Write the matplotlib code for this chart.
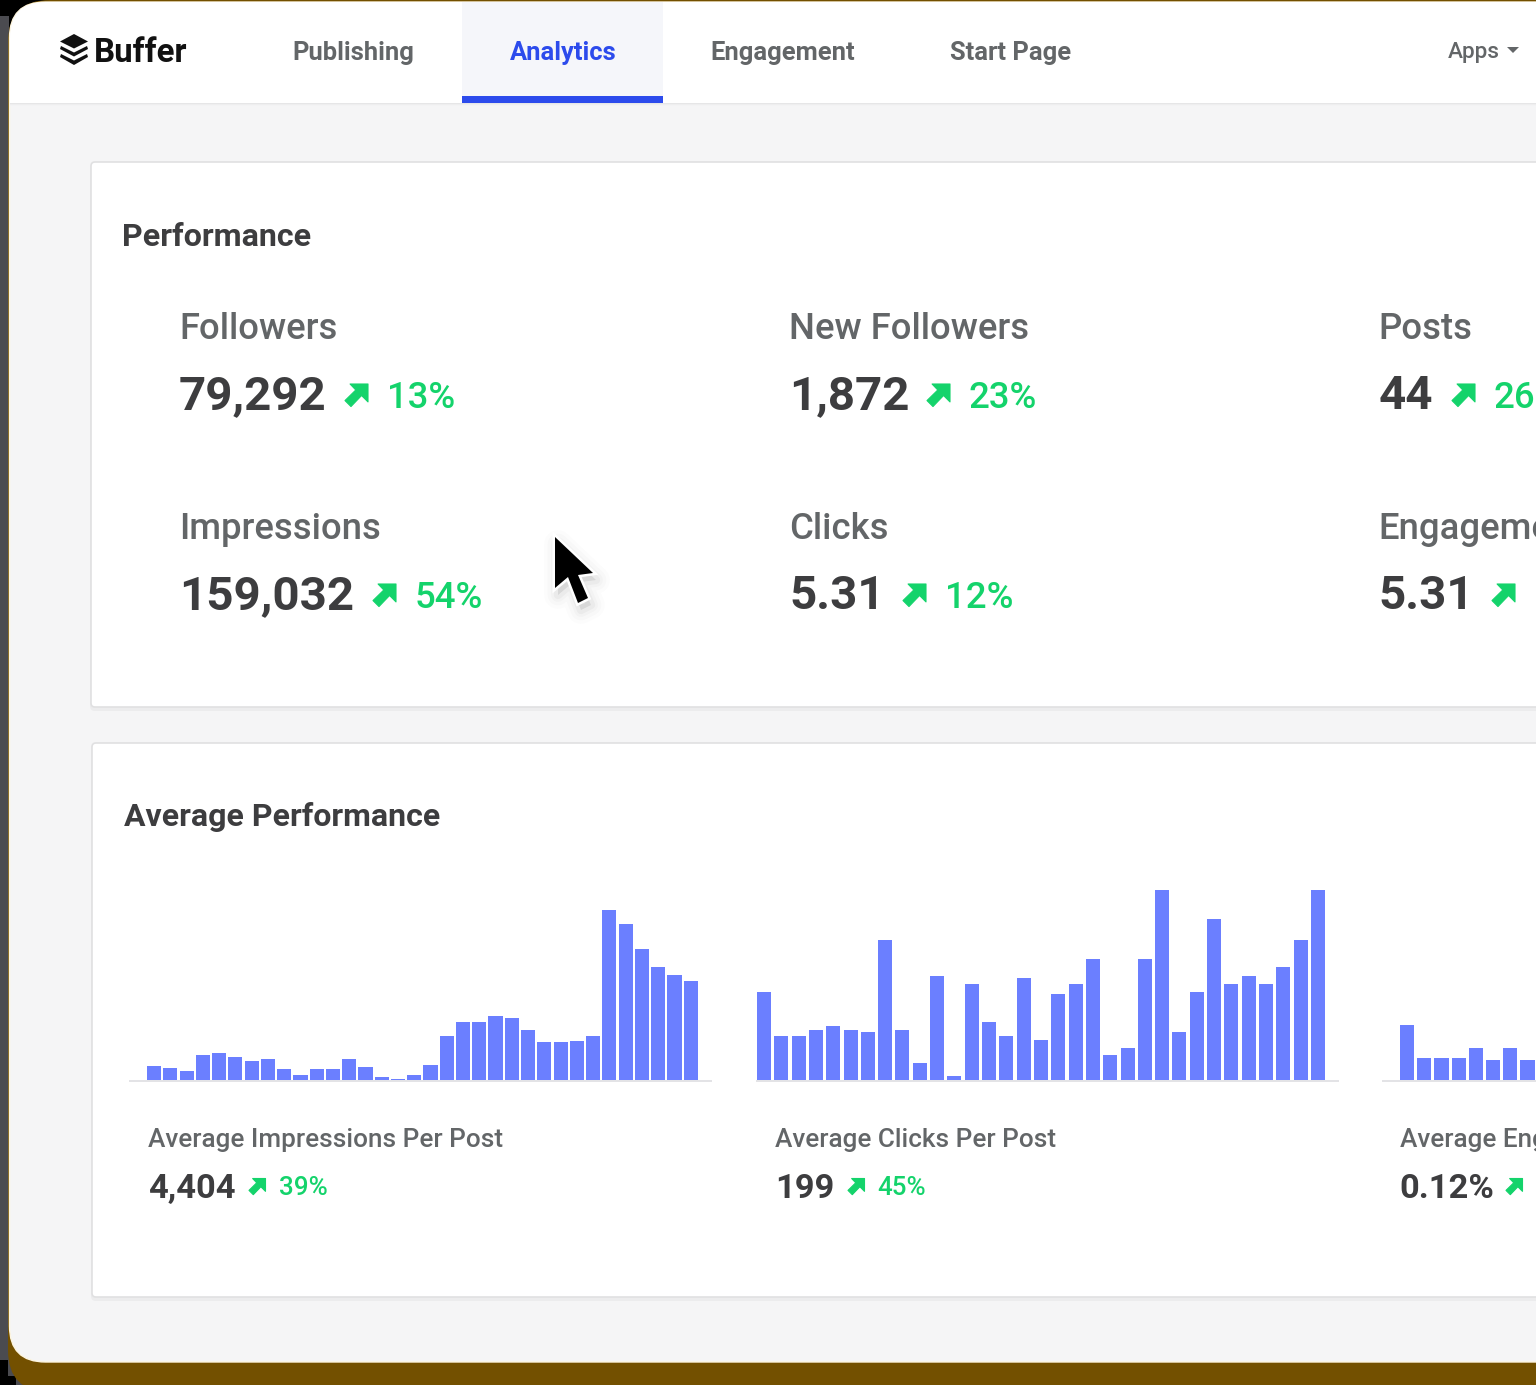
import matplotlib
matplotlib.use("Agg")
import matplotlib.pyplot as plt
from matplotlib.patches import Polygon, Rectangle, FancyBboxPatch

W, H = 1536, 1385

nav_items = ["Publishing", "Analytics", "Engagement", "Start Page"]
kpi_labels = ["Followers", "New Followers", "Posts", "Impressions", "Clicks", "Engagement"]
kpi_values = ["79,292", "1,872", "44", "159,032", "5.31", "5.31"]
kpi_changes = ["13%", "23%", "26%", "54%", "12%", ""]
avg_labels = ["Average Impressions Per Post", "Average Clicks Per Post", "Average Engagement"]
avg_values = ["4,404", "199", "0.12%"]
avg_changes = ["39%", "45%", ""]

impressions = [14.3, 12.3, 9.3, 25.3, 27.3, 23.3, 19.3, 21, 11, 5, 11, 11, 21, 13, 3, 1, 4.7, 14.7,
               43.7, 57.7, 57.7, 64, 62, 49.7, 37.7, 37.7, 39.3, 43.7, 169.7, 155.7, 131, 112.7, 104.7, 98.7]
clicks = [88.3, 44, 44, 49.7, 53.7, 49.7, 48, 140.3, 49.7, 17, 103.7, 3.7, 96, 57.7, 44, 101.7, 40,
          86.3, 96, 121, 24.7, 32.3, 121, 190, 48, 88.3, 161.3, 96, 103.7, 96, 113.3, 140.3, 190]
engagement = [54.7, 22, 22, 22, 32, 20, 32, 20]

BAR = "#6b7fff"
DARK = "#3d3d3f"
GREY = "#636668"
GREEN = "#14d36b"
FONT = "Roboto"

fig = plt.figure(figsize=(W / 100, H / 100), dpi=100, facecolor="#000000")
page = fig.add_axes([0, 0, 1, 1])
page.set_xlim(0, W)
page.set_ylim(H, 0)
page.axis("off")


def px(s):
    return s * 0.72


def label(x, y, s, size, color=DARK, weight=500, ha="left", zorder=6):
    page.text(x, y, s, fontsize=px(size), color=color, fontweight=weight, family=FONT,
              ha=ha, va="baseline", zorder=zorder)


def rrect(x0, y0, x1, y1, r, **kw):
    p = FancyBboxPatch((x0 + r, y0 + r), x1 - x0 - 2 * r, y1 - y0 - 2 * r,
                       boxstyle=f"round,pad={r},rounding_size={r}", **kw)
    page.add_patch(p)
    return p


# device frame
page.add_patch(Rectangle((0, 16), 9, 1344, fc="#4b4b50", ec="none", zorder=0))
page.add_patch(Rectangle((8, 1360), 8, 16, fc="#4b4b50", ec="none", zorder=0))
page.add_patch(Rectangle((16, 1376), 24, 9, fc="#4b4b50", ec="none", zorder=0))
rrect(8, 0, W + 80, 1392, 42, fc="#735000", ec="none", zorder=1)
rrect(9.5, 2, W + 80, 1362, 36, fc="#f5f5f6", ec="#fdf5e0", lw=1, zorder=2)

# top bar
nav_clip = rrect(10, 2, W + 80, 1362, 36, fc="none", ec="none", zorder=2)
hdr = Rectangle((9, 0), W, 103, fc="#ffffff", ec="none", zorder=3)
page.add_patch(hdr)
hdr.set_clip_path(nav_clip)
for i, c in enumerate(["#e6e6e7", "#eeeeef", "#f3f3f4"]):
    page.add_patch(Rectangle((10, 103 + i), W, 1, fc=c, ec="none", zorder=3))
page.add_patch(Rectangle((462, 2), 201, 95, fc="#f5f6fa", ec="none", zorder=4))
page.add_patch(Rectangle((462, 96), 201, 7, fc="#2c4bec", ec="none", zorder=5))

# logo
for pts in [[(74, 34), (88, 41.5), (74, 48.5), (60, 41.5)],
            [(61, 46), (74, 52.5), (87, 46), (88, 49), (74, 56.5), (60, 49)],
            [(61, 54), (74, 60.5), (87, 54), (88, 57), (74, 65), (60, 57)]]:
    page.add_patch(Polygon(pts, closed=True, fc="#111111", ec="none", zorder=6))
label(94, 62, "Buffer", 33, color="#111111", weight=700)

nav_x = [292.5, 509.5, 710.5, 949.5]
for i, (x, s) in enumerate(zip(nav_x, nav_items)):
    label(x, 60, s, 25.5, color="#2c4bec" if i == 1 else GREY, weight=700)
label(1447.5, 58, "Apps", 22.5, color=GREY, weight=500)
page.add_patch(Polygon([(1507, 47), (1519, 47), (1513, 53)], closed=True, fc=GREY, ec="none", zorder=6))

# cards
for (y0, y1, x0) in [(162, 707, 91), (743, 1297, 92)]:
    rrect(x0 - 1, y0 + 1, W + 40, y1 + 4, 5, fc="#ececed", ec="none", zorder=3)
    rrect(x0, y0, W + 40, y1, 4, fc="#ffffff", ec="#e0e0e1", lw=1.2, zorder=4)

label(122, 246, "Performance", 32.3, weight=700)
label(123.5, 826, "Average Performance", 32, weight=700)


def arrow(x, y, s):
    """Green up-right arrow with its left-bottom corner at (x, y), size s."""
    pts = [(x + s * 0.22, y - s), (x + s, y - s), (x + s, y - s * 0.22), (x + s * 0.72, y - s * 0.5),
           (x + s * 0.26, y - s * 0.02), (x, y - s * 0.28), (x + s * 0.47, y - s * 0.74)]
    page.add_patch(Polygon(pts, closed=True, fc=GREEN, ec=GREEN, lw=0.8, joinstyle="round", zorder=6))


# KPI blocks: label x, label baseline, value baseline, arrow x, change x
kpi_x = [179, 789, 1378.5, 179, 789, 1378.5]
kpi_y = [339, 339, 339, 539, 539, 539]
val_y = [409, 409, 409, 609, 609, 609]
val_x = [179, 789, 1378.5, 179, 789, 1378.5]
arr_x = [345, 927, 1452, 373, 903, 1492]
chg_x = [386.5, 968.5, 1493.5, 414.5, 945.5, 1534]
for i in range(6):
    label(kpi_x[i], kpi_y[i], kpi_labels[i], 36.5, color=GREY, weight=500)
    label(val_x[i], val_y[i], kpi_values[i], 47.5, color=DARK, weight=700)
    arrow(arr_x[i], val_y[i] - 2, 23)
    if kpi_changes[i]:
        label(chg_x[i], val_y[i] - 1, kpi_changes[i], 36.5, color=GREEN, weight=500)

# average blocks
avg_x = [148.5, 775, 1399.5]
avg_val_x = [148, 775, 1399]
avg_arr = [249, 848, 1506]
avg_chg = [278.5, 877.5, 1540]
for i in range(3):
    label(avg_x[i], 1147, avg_labels[i], 26.1, color=GREY, weight=500)
    label(avg_val_x[i], 1198, avg_values[i], 34.5, color=DARK, weight=700)
    arrow(avg_arr[i], 1195, 16.5)
    if avg_changes[i]:
        label(avg_chg[i], 1195, avg_changes[i], 26, color=GREEN, weight=500)

# bar charts
for x0, x1 in [(129, 712), (756, 1339), (1382, 1560)]:
    page.add_patch(Rectangle((x0, 1080), x1 - x0, 2, fc="#e3e3e6", ec="none", zorder=5))


def bars(values, first_left, pitch, width):
    n = len(values)
    left = first_left - (pitch - width) / 2
    ax = fig.add_axes([left / W, 1 - 1080 / H, n * pitch / W, 200 / H])
    ax.set_xlim(-0.5, n - 0.5)
    ax.set_ylim(0, 200)
    ax.axis("off")
    ax.patch.set_alpha(0)
    ax.bar(range(n), values, width=width / pitch, color=BAR, linewidth=0)
    ax.set_zorder(3)


page.set_zorder(2)
bars(impressions, 147, 16.26, 14.2)
bars(clicks, 757, 17.31, 14)
bars(engagement, 1400, 17.2, 14.2)

# cursor
cur = [(555, 537), (555, 588), (568, 577), (578, 603), (588, 598), (578, 575), (593, 573)]
for lw, a in [(20, 0.012), (15, 0.015), (10, 0.02), (6, 0.03)]:
    page.add_patch(Polygon([(x + 3, y + 7) for x, y in cur], closed=True, fc=(0, 0, 0, a),
                           ec=(0, 0, 0, a), lw=lw, joinstyle="round", zorder=7))
page.add_patch(Polygon(cur, closed=True, fc="#ffffff", ec="#ffffff", lw=3.6, joinstyle="miter", zorder=8))
page.add_patch(Polygon(cur, closed=True, fc="#000000", ec="none", zorder=9))

fig.savefig("out.png", dpi=100, facecolor=fig.get_facecolor())
